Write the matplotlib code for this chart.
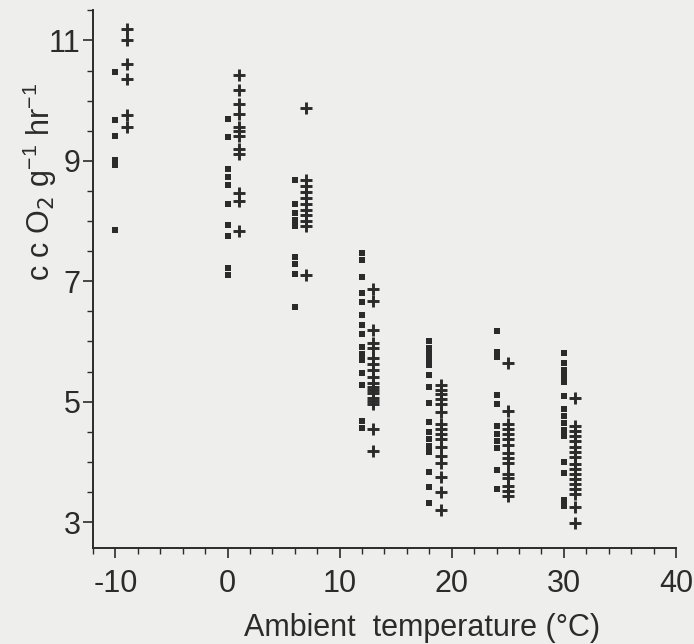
import matplotlib
matplotlib.use('Agg')
import matplotlib.pyplot as plt
import matplotlib.ticker as ticker

# oxygen consumption (cc O2 g-1 hr-1)
# squares drawn just left of each temperature, crosses just right
sq_temp = [-10, 0, 6, 12, 18, 24, 30]
sq_vals = [
    [10.47, 9.68, 9.41, 9.01, 8.93, 7.85],
    [9.70, 9.40, 8.87, 8.74, 8.60, 8.29, 7.93, 7.75, 7.22, 7.10],
    [8.68, 8.28, 8.13, 8.01, 7.91, 7.41, 7.28, 7.12, 6.57],
    [7.47, 7.35, 7.07, 6.81, 6.66, 6.44, 6.27, 6.13, 5.91, 5.80, 5.70,
     5.47, 5.27, 4.68, 4.56],
    [6.00, 5.90, 5.80, 5.71, 5.61, 5.44, 5.24, 4.98, 4.66, 4.49, 4.38,
     4.26, 4.16, 3.83, 3.58, 3.32],
    [6.17, 5.82, 5.74, 5.11, 4.96, 4.59, 4.46, 4.34, 4.23, 3.86, 3.55],
    [5.81, 5.64, 5.52, 5.42, 5.32, 5.09, 4.88, 4.76, 4.64, 4.53, 4.43,
     4.00, 3.81, 3.37, 3.27],
]
pl_temp = [-9, 1, 7, 13, 19, 25, 31]
pl_vals = [
    [11.19, 11.01, 10.61, 10.36, 9.76, 9.57],
    [10.42, 10.18, 9.95, 9.78, 9.56, 9.49, 9.42, 9.20, 9.11, 8.47, 8.33, 7.83],
    [9.88, 8.69, 8.59, 8.49, 8.39, 8.29, 8.19, 8.10, 8.00, 7.91, 7.10],
    [6.88, 6.68, 6.19, 5.97, 5.90, 5.72, 5.62, 5.52, 5.41, 5.31, 5.24,
     5.19, 5.14, 5.07, 5.02, 4.96, 4.54, 4.18],
    [5.27, 5.19, 5.12, 5.04, 4.96, 4.83, 4.63, 4.54, 4.46, 4.38, 4.25,
     4.10, 3.98, 3.75, 3.50, 3.20],
    [5.64, 4.84, 4.63, 4.54, 4.46, 4.38, 4.28, 4.15, 4.06, 3.98, 3.80,
     3.73, 3.60, 3.51, 3.43],
    [5.07, 4.59, 4.51, 4.43, 4.34, 4.24, 4.16, 4.08, 3.96, 3.88, 3.80,
     3.71, 3.63, 3.55, 3.46, 3.25, 2.98],
]
x_ticks = [-10, 0, 10, 20, 30, 40]
x_labels = ['-10', '0', '10', '20', '30', '40']
y_ticks = [3, 5, 7, 9, 11]

bg = '#eeeeec'
ink = '#2b2b2b'
plt.rcParams['font.family'] = ['Liberation Sans', 'DejaVu Sans']

fig = plt.figure(figsize=(6.94, 6.44), dpi=100, facecolor=bg)
ax = fig.add_axes([0.134, 0.149, 0.840, 0.835], facecolor=bg)

for t, vals in zip(sq_temp, sq_vals):
    ax.plot([t] * len(vals), vals, linestyle='none', marker='s',
            markersize=3.9, color=ink, markeredgewidth=0)
for t, vals in zip(pl_temp, pl_vals):
    ax.plot([t] * len(vals), vals, linestyle='none', marker='+',
            markersize=8.8, color=ink, markeredgewidth=2.1)

ax.set_xlim(-12, 40)
ax.set_ylim(2.57, 11.5)
ax.set_xticks(x_ticks)
ax.set_xticklabels(x_labels)
ax.set_yticks(y_ticks)
ax.xaxis.set_minor_locator(ticker.MultipleLocator(2))
ax.yaxis.set_minor_locator(ticker.MultipleLocator(0.5))

for side in ['top', 'right']:
    ax.spines[side].set_visible(False)
for side in ['left', 'bottom']:
    ax.spines[side].set_linewidth(1.4)
    ax.spines[side].set_color(ink)

ax.tick_params(which='major', length=7, width=1.2, color=ink,
               labelsize=22, labelcolor=ink)
ax.tick_params(which='minor', length=4, width=1.0, color=ink)
ax.tick_params(axis='x', which='major', pad=8)
ax.tick_params(axis='y', which='major', pad=2)

ax.set_xlabel('Ambient  temperature (\u00b0C)', fontsize=22, color=ink)
ax.xaxis.set_label_coords(0.565, -0.121)
ax.set_ylabel(r'c c O$_2$ g$^{\mathregular{-1}}$ hr$^{\mathregular{-1}}$',
              fontsize=22, color=ink)
ax.yaxis.set_label_coords(-0.058, 0.68)

fig.savefig('out.png', dpi=100, facecolor=bg)
